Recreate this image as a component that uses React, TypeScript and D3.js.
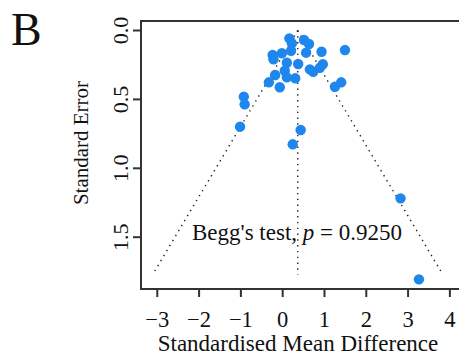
import * as d3 from "d3";

// study effect sizes (SMD) and their standard errors
const smd = [
  0.16, 0.51, 0.63, 0.22, 0.2, 0.56, 0.93, 1.49, -0.24, -0.22, -0.02, 0.1,
  0.37, 0.96, 0.89, 0.65, 0.73, 0.05, -0.18, 0.1, 0.3, -0.33, -0.07, 1.4,
  1.25, -0.93, -0.91, -1.02, 0.43, 0.24, 2.82, 3.26,
];
const se = [
  0.057, 0.069, 0.098, 0.093, 0.147, 0.161, 0.154, 0.142, 0.178, 0.209, 0.165,
  0.234, 0.243, 0.245, 0.27, 0.282, 0.299, 0.292, 0.323, 0.34, 0.347, 0.376,
  0.412, 0.376, 0.408, 0.48, 0.536, 0.698, 0.722, 0.826, 1.218, 1.806,
];
const xTicks = [-3, -2, -1, 0, 1, 2, 3, 4];
const yTicks = [0, 0.5, 1, 1.5];
const pooled = 0.36;
const seMax = 1.77;
const annotation = "Begg's test, ";
const pValue = "0.9250";

const W = 459;
const H = 356;
const FONT = "'Liberation Serif', 'Times New Roman', serif";

export default function App() {
  const x = d3.scaleLinear().domain([-3.39, 4.29]).range([141, 462]);
  const y = d3.scaleLinear().domain([-0.069, 1.876]).range([21, 289]);

  const funnel = d3
    .line<[number, number]>()
    .x((d) => x(d[0]))
    .y((d) => y(d[1]));
  const leftEdge: [number, number][] = [
    [pooled, 0],
    [pooled - 1.96 * seMax, seMax],
  ];
  const rightEdge: [number, number][] = [
    [pooled, 0],
    [pooled + 1.96 * seMax, seMax],
  ];
  const centre: [number, number][] = [
    [pooled, 0],
    [pooled, seMax],
  ];
  const dotted = { fill: "none", stroke: "#222", strokeWidth: 1.4, strokeDasharray: "1.4 4.4" };

  const [x0, x1] = x.range();
  const [y0, y1] = y.range();

  return (
    <svg
      width={W}
      height={H}
      style={{ position: "absolute", left: 0, top: 0, background: "#fff" }}
      fontFamily={FONT}
    >
      <text x={11} y={45} fontSize={46} fill="#111">
        B
      </text>

      {/* funnel */}
      <path d={funnel(leftEdge)!} {...dotted} />
      <path d={funnel(rightEdge)!} {...dotted} />
      <path d={funnel(centre)!} {...dotted} />

      {/* studies */}
      {smd.map((v, i) => (
        <circle key={i} cx={x(v)} cy={y(se[i])} r={5.2} fill="#1f86ee" />
      ))}

      {/* box */}
      <path
        d={`M${x1},${y0}H${x0}V${y1}H${x1}`}
        fill="none"
        stroke="#333"
        strokeWidth={2}
      />

      {/* y axis */}
      {yTicks.map((t) => (
        <g key={t}>
          <line x1={133} x2={x0} y1={y(t)} y2={y(t)} stroke="#333" strokeWidth={2} />
          <text
            transform={`translate(128,${y(t)}) rotate(-90)`}
            textAnchor="middle"
            fontSize={22}
            fill="#111"
          >
            {d3.format(".1f")(t)}
          </text>
        </g>
      ))}
      <text
        transform={`translate(88,143) rotate(-90)`}
        textAnchor="middle"
        fontSize={21}
        fill="#111"
      >
        Standard Error
      </text>

      {/* x axis */}
      {xTicks.map((t) => (
        <g key={t}>
          <line x1={x(t)} x2={x(t)} y1={y1} y2={297} stroke="#333" strokeWidth={2} />
          <text x={x(t)} y={327} textAnchor="middle" fontSize={22.5} fill="#111">
            {t < 0 ? `\u2212${Math.abs(t)}` : t}
          </text>
        </g>
      ))}
      <text x={298} y={351} textAnchor="middle" fontSize={23} fill="#111">
        Standardised Mean Difference
      </text>

      <text x={297} y={240} textAnchor="middle" fontSize={23} fill="#111">
        {annotation}
        <tspan fontStyle="italic">p</tspan>
        {` = ${pValue}`}
      </text>
    </svg>
  );
}
